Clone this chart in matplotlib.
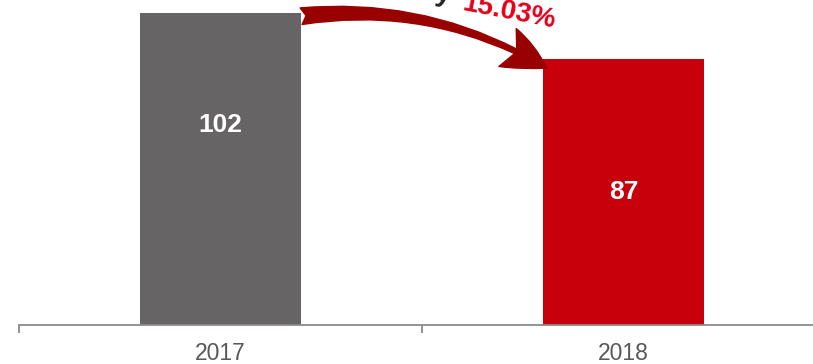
import matplotlib
matplotlib.use('Agg')
import matplotlib.pyplot as plt

# data
years = ['2017', '2018']
counts = [102, 87]
bar_colors = ['#666465', '#C8000B']
change_label = '15.03%'

plt.rcParams['font.family'] = ['Liberation Sans', 'DejaVu Sans']

fig = plt.figure(figsize=(8.13, 3.64), dpi=100)
ax = fig.add_axes([19 / 813, 39 / 364, 806 / 813, 325 / 364])

x = list(range(len(years)))
ax.bar(x, counts, width=0.4, color=bar_colors)

ax.set_xlim(-0.5, 1.5)
ax.set_ylim(0, 106.3)

# value labels inside the bars
label_frac = [0.64, 0.5]
for i, v in enumerate(counts):
    ax.text(i, v * label_frac[i], str(v), ha='center', va='center',
            color='white', fontsize=19, fontweight='bold')

# axis styling
for s in ['top', 'right', 'left']:
    ax.spines[s].set_visible(False)
ax.spines['bottom'].set_color('#8a8a8a')
ax.spines['bottom'].set_linewidth(1.3)
ax.set_yticks([])
ax.set_xticks(x)
ax.set_xticklabels(years, fontsize=16.5, color='#595959')
ax.tick_params(axis='x', which='major', length=0, pad=12)
ax.set_xticks([-0.5, 0.5, 1.5], minor=True)
ax.tick_params(axis='x', which='minor', length=5.5, width=1.3,
               color='#8a8a8a', direction='out')

# curved arrow from 2017 bar to 2018 bar
ax.annotate('', xy=(1 - 0.19, counts[1] - 3), xytext=(0 + 0.2, counts[0] - 1),
            arrowprops=dict(arrowstyle='fancy,head_length=3.2,head_width=3.0,tail_width=1.2',
                            connectionstyle='arc3,rad=-0.17', color='#990000',
                            shrinkA=0, shrinkB=0),
            annotation_clip=False)

# change text (partly cut off at the top)
fig.text(450 / 813, 1 - 3 / 364, 'by', ha='right', va='baseline',
         rotation=-11, rotation_mode='anchor', fontsize=20,
         fontweight='bold', color='#262626')
fig.text(461 / 813, 1 - 10 / 364, change_label, ha='left', va='baseline',
         rotation=-11, rotation_mode='anchor', fontsize=20,
         fontweight='bold', color='#E3001B')

fig.savefig('out.png', dpi=100)
